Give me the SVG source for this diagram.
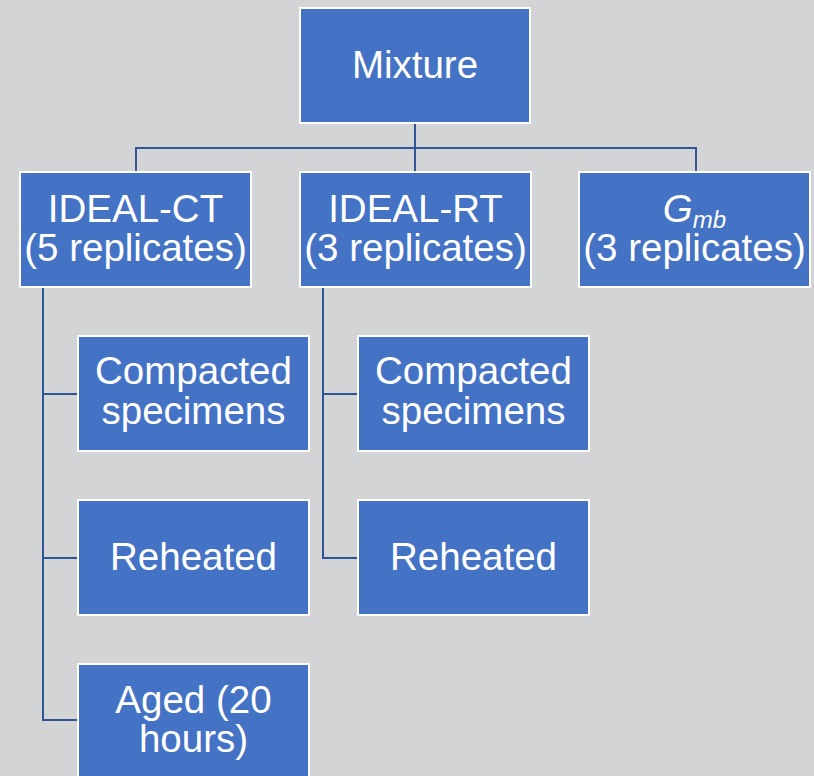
<svg xmlns="http://www.w3.org/2000/svg" width="814" height="776" viewBox="0 0 814 776">
<style>
.box{fill:#4472C4;stroke:#FFFFFF;stroke-width:2}
.t{font-family:"Liberation Sans",Arial,sans-serif;font-size:38.5px;fill:#FFFFFF;text-anchor:middle}
.c{fill:none;stroke:#2F5597;stroke-width:2}
</style>
<rect x="0" y="0" width="814" height="776" fill="#D3D4D6"/>
<g id="connectors">
<path class="c" d="M415,123 V172 M136,172 V148 H696 V172"/>
<path class="c" d="M43,287 V720 H78 M43,394 H78 M43,558 H78"/>
<path class="c" d="M323,287 V558 H358 M323,394 H358"/>
</g>
<g id="mixture"><rect class="box" x="300" y="8" width="230" height="115"/><text class="t" x="415" y="78">Mixture</text></g>
<g id="ideal-ct"><rect class="box" x="20" y="172" width="231" height="115"/><text class="t" x="135.5" y="221.5">IDEAL-CT</text><text class="t" x="135.5" y="261">(5 replicates)</text></g>
<g id="ideal-rt"><rect class="box" x="300" y="172" width="231" height="115"/><text class="t" x="415.5" y="221.5">IDEAL-RT</text><text class="t" x="415.5" y="261">(3 replicates)</text></g>
<g id="gmb"><rect class="box" x="579" y="172" width="231" height="115"/><text class="t" x="694.5" y="221.5" font-style="italic">G<tspan font-size="24" dy="6">mb</tspan></text><text class="t" x="694.5" y="261">(3 replicates)</text></g>
<g id="ct-compacted"><rect class="box" x="78" y="336" width="231" height="115"/><text class="t" x="193.5" y="384">Compacted</text><text class="t" x="193.5" y="424">specimens</text></g>
<g id="ct-reheated"><rect class="box" x="78" y="500" width="231" height="115"/><text class="t" x="193.5" y="569.5">Reheated</text></g>
<g id="ct-aged"><rect class="box" x="78" y="664" width="231" height="115"/><text class="t" x="193.5" y="712.5">Aged (20</text><text class="t" x="193.5" y="752">hours)</text></g>
<g id="rt-compacted"><rect class="box" x="358" y="336" width="231" height="115"/><text class="t" x="473.5" y="384">Compacted</text><text class="t" x="473.5" y="424">specimens</text></g>
<g id="rt-reheated"><rect class="box" x="358" y="500" width="231" height="115"/><text class="t" x="473.5" y="569.5">Reheated</text></g>
</svg>
